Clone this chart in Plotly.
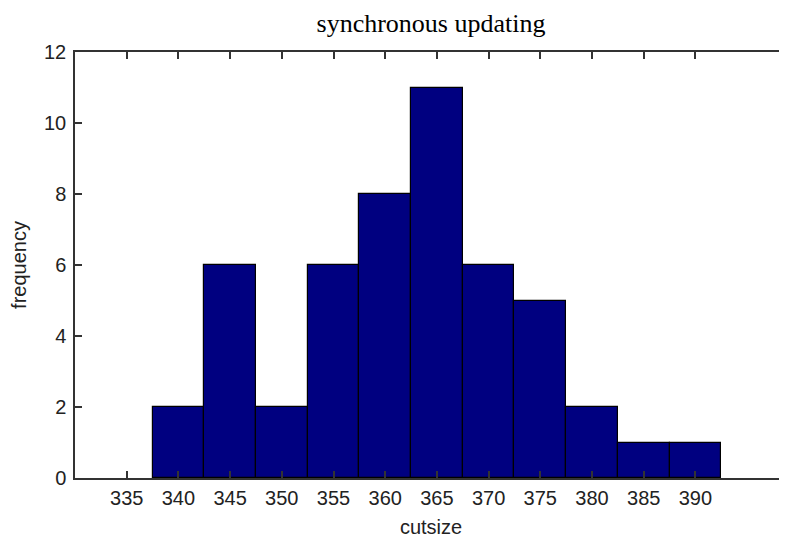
import plotly.graph_objects as go

bin_centers = [340, 345, 350, 355, 360, 365, 370, 375, 380, 385, 390]
frequency = [2, 6, 2, 6, 8, 11, 6, 5, 2, 1, 1]
x_ticks = [335, 340, 345, 350, 355, 360, 365, 370, 375, 380, 385, 390]
y_ticks = [0, 2, 4, 6, 8, 10, 12]

fig = go.Figure()
fig.add_trace(go.Bar(
    x=bin_centers, y=frequency, width=5,
    marker=dict(color="#000080", line=dict(color="black", width=1.2)),
))

# page body has an 8px margin; offset the figure accordingly
W, H = 779, 530
axis_font = dict(family="Liberation Sans, Arial", size=20, color="#222222")
fig.update_layout(
    width=W, height=H,
    margin=dict(l=67, r=0, t=44, b=H - 470),
    plot_bgcolor="white", paper_bgcolor="white",
    showlegend=False,
    title=dict(text="synchronous updating", x=0.5, xref="paper", xanchor="center",
               y=1 - 15 / H, yref="container", yanchor="middle",
               font=dict(family="Liberation Serif, Times New Roman", size=26, color="black")),
    xaxis=dict(range=[330, 398.86], tickvals=x_ticks, ticks="inside", ticklen=7,
               tickcolor="#333333", tickwidth=1.5, showline=True, linecolor="#333333", linewidth=1.5,
               mirror="ticks", showgrid=False, zeroline=False, tickfont=axis_font, automargin=False,
               title=dict(text="cutsize", font=axis_font, standoff=21), ticklabelstandoff=1),
    yaxis=dict(range=[0, 12], tickvals=y_ticks, ticks="inside", ticklen=7,
               tickcolor="#333333", tickwidth=1.5, showline=True, linecolor="#333333", linewidth=1.5,
               showgrid=False, zeroline=False, tickfont=axis_font, automargin=False,
               title=dict(text="frequency", font=axis_font, standoff=13), ticklabelstandoff=3),
    bargap=0,
)

fig.write_html("out.html")
